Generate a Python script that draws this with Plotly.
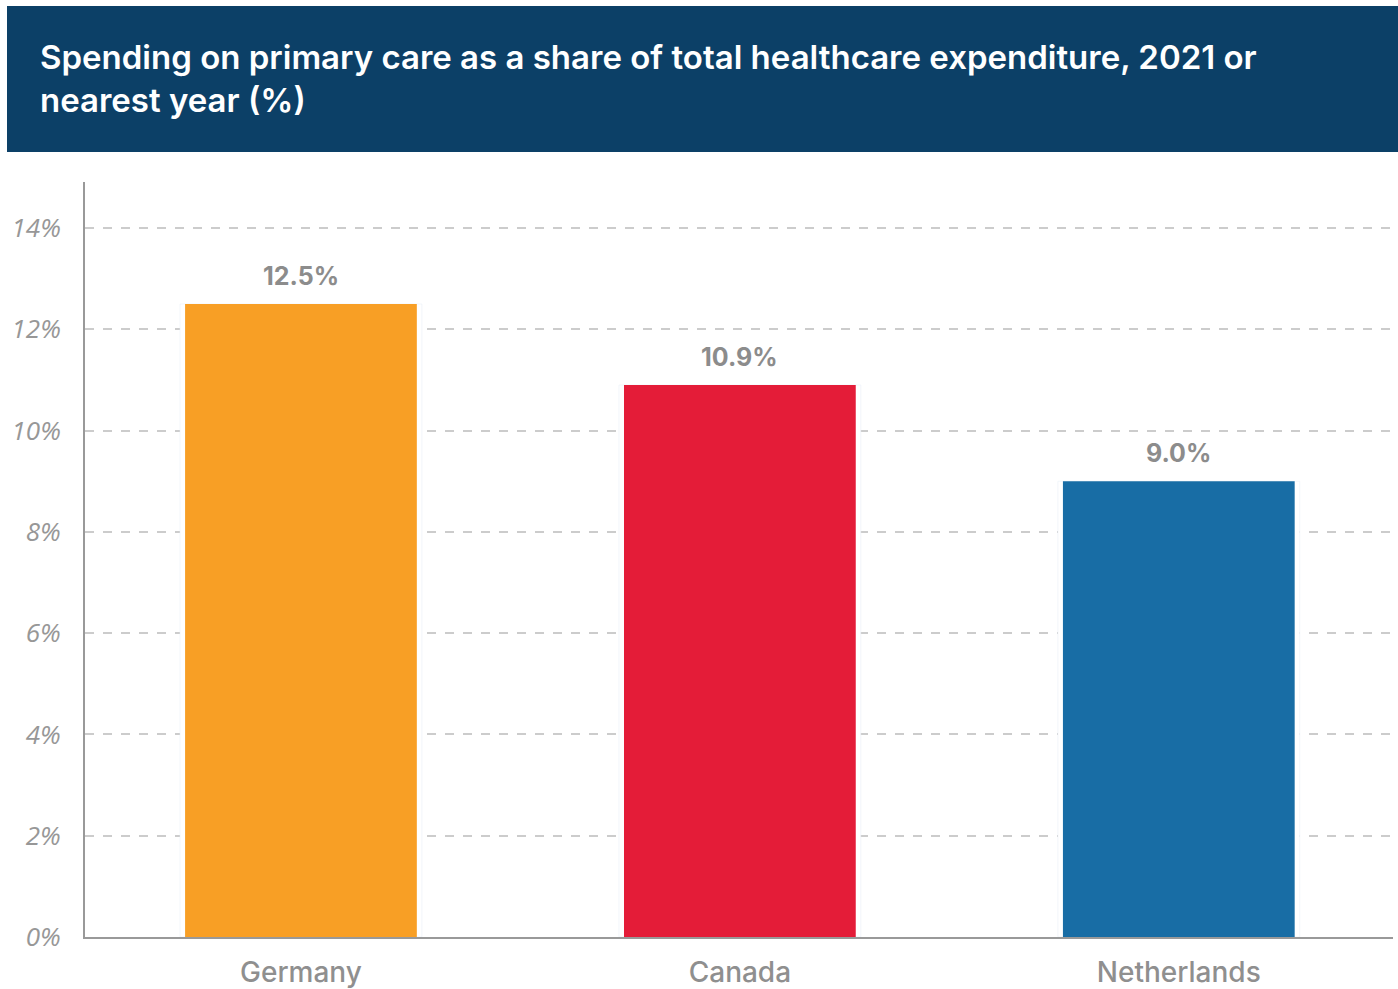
import plotly.graph_objects as go

countries = ["Germany", "Canada", "Netherlands"]
shares = [12.5, 10.9, 9.0]
labels = ["12.5%", "10.9%", "9.0%"]
colors = ["#F89F25", "#E41C38", "#186DA5"]
tick_vals = [0, 2, 4, 6, 8, 10, 12, 14]
tick_text = ["0%", "2%", "4%", "6%", "8%", "10%", "12%", "14%"]
title_lines = ["Spending on primary care as a share of total healthcare expenditure, 2021 or",
               "nearest year (%)"]

W, H = 1398, 989
L, R, T, B = 85, 5, 182, 52
pw, ph = W - L - R, H - T - B

def px(x):
    return (x - L) / pw

def py(y):
    return (H - B - y) / ph

fig = go.Figure()
# white underlay to break gridlines around bars
fig.add_trace(go.Bar(x=countries, y=shares, width=0.551, marker_color="white",
                     hoverinfo="skip", showlegend=False))
fig.add_trace(go.Bar(x=countries, y=shares, width=0.528, marker_color=colors,
                     marker_line_width=0, showlegend=False))

annotations = []
for line, yc in zip(title_lines, [57, 100]):
    annotations.append(dict(text=line, xref="paper", yref="paper",
                            x=px(38), y=py(yc), xanchor="left", yanchor="middle",
                            align="left", showarrow=False,
                            font=dict(family="Inter", size=33, color="white", weight=600)))
for c, v, t in zip(countries, shares, labels):
    annotations.append(dict(x=c, y=v, text=t, showarrow=False, yanchor="bottom",
                            yshift=11,
                            font=dict(family="Inter", size=25, color="#8C8C8C", weight=700)))

fig.update_layout(
    width=W, height=H,
    margin=dict(l=L, r=R, t=T, b=B),
    barmode="overlay",
    plot_bgcolor="white", paper_bgcolor="white",
    shapes=[dict(type="rect", xref="paper", yref="paper",
                 x0=px(7), x1=px(1398), y0=py(152), y1=py(6),
                 fillcolor="#0C4067", line_width=0, layer="above")],
    annotations=annotations,
)
fig.update_yaxes(range=[0, ph / 50.64], tickvals=tick_vals, ticktext=tick_text,
                 showgrid=True, gridcolor="#CCCCCC", griddash="dash", gridwidth=2,
                 showline=True, linecolor="#999999", linewidth=2, zeroline=False,
                 ticks="", ticklabelstandoff=17, automargin=False,
                 tickfont=dict(family="Open Sans", size=26, color="#979797", style="italic", weight=400))
fig.update_xaxes(range=[-0.492, 2.488], showline=True, linecolor="#999999", linewidth=2,
                 showgrid=False, ticks="", automargin=False,
                 tickfont=dict(family="Inter", size=28, color="#8F8F8F", weight=500),
                 ticklabelstandoff=9)

fig.write_html("out.html")
